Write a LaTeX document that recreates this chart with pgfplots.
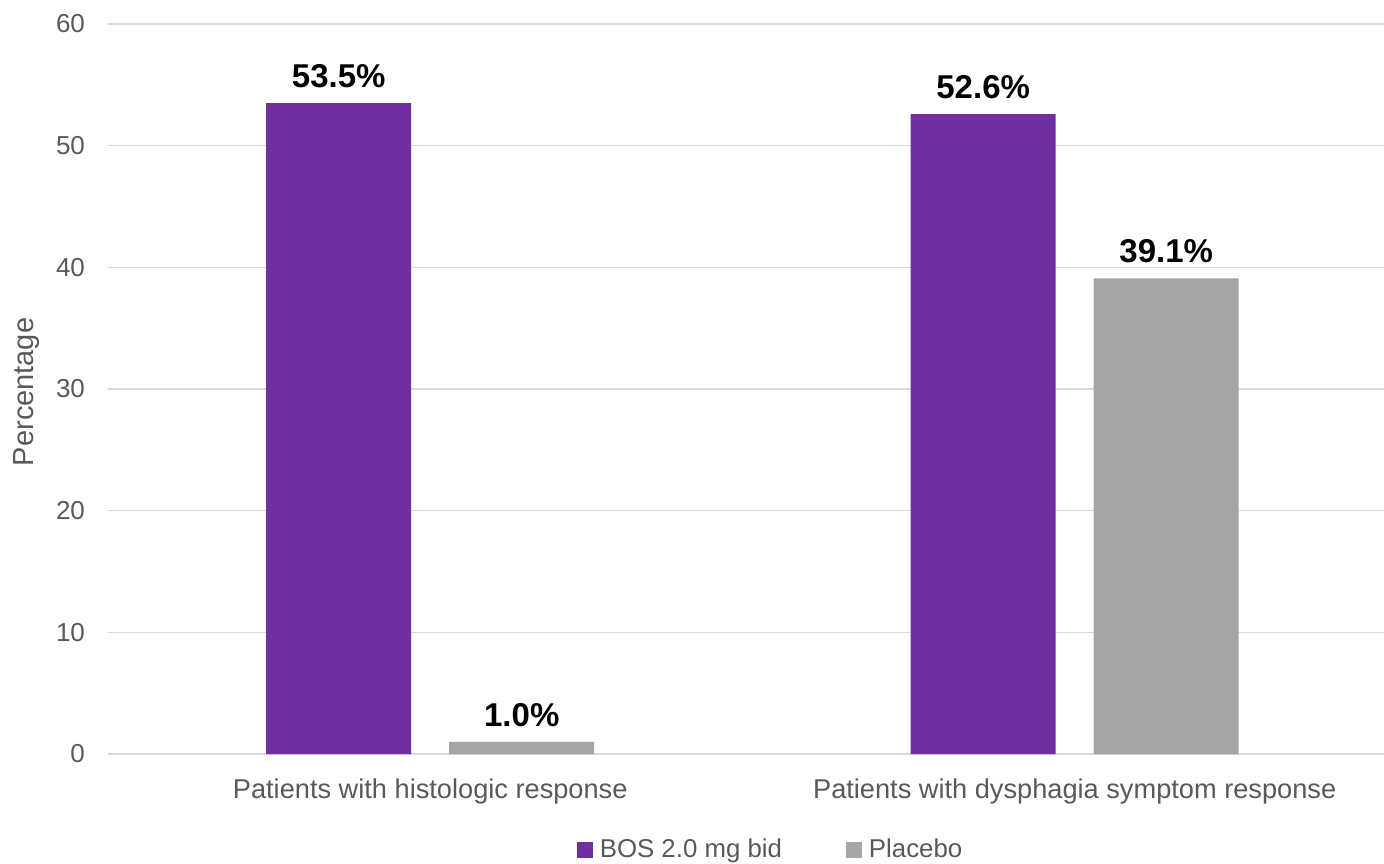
\documentclass[border=0pt]{standalone}
\usepackage{pgfplots}
\pgfplotsset{compat=1.18}
\usepackage{fontspec}
\setmainfont{Liberation Sans}
\definecolor{bospurple}{HTML}{7030A0}
\definecolor{plgray}{HTML}{A5A5A5}
\definecolor{txtgray}{HTML}{595959}
\definecolor{gridgray}{HTML}{D9D9D9}
\begin{document}
\begin{tikzpicture}
\useasboundingbox (0,0) rectangle (692pt,431.5pt);
\begin{axis}[
  at={(54pt,54.5pt)}, anchor=south west,
  scale only axis,
  width=638pt, height=365pt,
  ybar,
  xmin=-0.5, xmax=1.48,
  ymin=0, ymax=60,
  ytick={0,10,20,30,40,50,60},
  xtick={0,1},
  xticklabels={Patients with histologic response, Patients with dysphagia symptom response},
  major tick length=0pt,
  axis line style={draw=none},
  ymajorgrids,
  grid style={draw=gridgray, line width=0.8pt},
  /pgf/number format/assume math mode=true,
  ticklabel style={font=\fontsize{13}{15}\selectfont, text=txtgray},
  yticklabel style={xshift=-8pt},
  xticklabel style={yshift=-9pt, font=\fontsize{13.6}{15}\selectfont},
  every axis y label/.style={at={(axis description cs:-0.0635,0.496)}, rotate=90, anchor=center, font=\fontsize{14.5}{16}\selectfont, text=txtgray},
  ylabel={Percentage},
  bar width=0.225,
  nodes near coords={\pgfmathprintnumber[fixed,fixed zerofill,precision=1]{\pgfplotspointmeta}\%},
  every node near coord/.append style={font=\bfseries\fontsize{16.5}{18}\selectfont, text=black, yshift=4pt},
  legend columns=2,
  legend style={at={(axis description cs:0.52,-0.1315)}, anchor=center, draw=none, fill=none,
    font=\fontsize{12.9}{15}\selectfont, text=txtgray,
    /tikz/every odd column/.append style={column sep=1.5pt},
    /tikz/every even column/.append style={column sep=30pt}},
  legend image code/.code={\fill[#1] (0pt,-4pt) rectangle (8pt,4pt);},
]
\addplot[fill=bospurple, draw=none, bar shift=-0.142] coordinates {(0,53.5) (1,52.6)};
\addplot[fill=plgray, draw=none, bar shift=0.142] coordinates {(0,1.0) (1,39.1)};
\legend{BOS 2.0 mg bid, Placebo}
\end{axis}
\end{tikzpicture}
\end{document}
